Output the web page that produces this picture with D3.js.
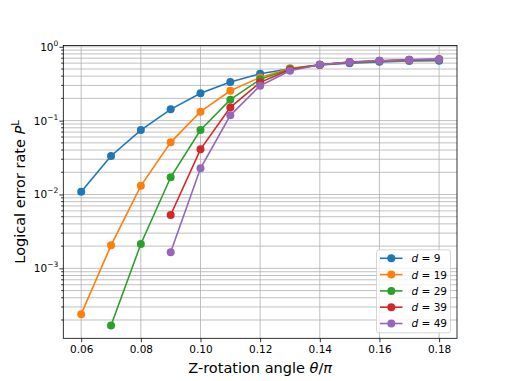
<!DOCTYPE html>
<html>
<head>
<meta charset="utf-8">
<script src="https://cdn.jsdelivr.net/npm/d3@7"></script>
<style>
  body { margin: 0; background: white; }
  text { font-family: "DejaVu Sans", sans-serif; }
</style>
</head>
<body>
<div id="chart"></div>
<script>
// rotation angles theta/pi
const angles = [0.06, 0.07, 0.08, 0.09, 0.10, 0.11, 0.12, 0.13, 0.14, 0.15, 0.16, 0.17, 0.18];

// logical error rates, null where no point was plotted
const d9  = [0.0109, 0.0332, 0.0746, 0.142, 0.234, 0.333, 0.431, 0.505, 0.565, 0.600, 0.625, 0.640, 0.648];
const d19 = [2.4e-4, 2.05e-3, 0.0131, 0.0508, 0.132, 0.254, 0.385, 0.51, 0.570, 0.615, 0.640, 0.655, 0.670];
const d29 = [null, 1.68e-4, 2.14e-3, 0.0171, 0.0746, 0.192, 0.362, 0.50, 0.570, 0.615, 0.640, 0.660, 0.670];
const d39 = [null, null, null, 5.28e-3, 0.0409, 0.151, 0.330, 0.49, 0.570, 0.620, 0.645, 0.665, 0.675];
const d49 = [null, null, null, 1.65e-3, 0.0226, 0.118, 0.297, 0.473, 0.571, 0.621, 0.647, 0.668, 0.680];

const seriesNames = ["9", "19", "29", "39", "49"];
const seriesValues = [d9, d19, d29, d39, d49];
const colors = ["#1f77b4", "#ff7f0e", "#2ca02c", "#d62728", "#9467bd"];

const xTicks = [0.06, 0.08, 0.10, 0.12, 0.14, 0.16, 0.18];
const yTicks = [1e-3, 1e-2, 1e-1, 1];
const yTickExp = ["\u22123", "\u22122", "\u22121", "0"];

const W = 508, H = 381;
const margin = {top: 45.5, left: 63.3, right: 51, bottom: 42.7};
const width = W - margin.left - margin.right,
      height = H - margin.top - margin.bottom;

const svg = d3.select("#chart").append("svg")
  .attr("width", W).attr("height", H);

const g = svg.append("g")
  .attr("transform", `translate(${margin.left},${margin.top})`);

const x = d3.scaleLinear().domain([0.054, 0.186]).range([0, width]);
const y = d3.scaleLog().domain([1.13e-4, 1.04]).range([height, 0]);

// minor ticks on the log axis
const minorTicks = [];
for (let e = -4; e <= 0; e++) {
  for (let m = 2; m <= 9; m++) {
    const v = m * Math.pow(10, e);
    if (v >= y.domain()[0] && v <= y.domain()[1]) minorTicks.push(v);
  }
}

// grid
const grid = g.append("g").attr("stroke", "#b0b0b0").attr("stroke-width", 0.8);
grid.selectAll(".gx").data(xTicks).join("line")
  .attr("x1", d => x(d)).attr("x2", d => x(d))
  .attr("y1", 0).attr("y2", height);
grid.selectAll(".gy").data(yTicks.concat(minorTicks).filter(v => v <= y.domain()[1])).join("line")
  .attr("x1", 0).attr("x2", width)
  .attr("y1", d => y(d)).attr("y2", d => y(d));

// lines and markers
const line = d3.line()
  .defined(d => d.v != null)
  .x(d => x(d.a)).y(d => y(d.v));

seriesValues.forEach((vals, i) => {
  const pts = angles.map((a, k) => ({a, v: vals[k]}));
  g.append("path").datum(pts)
    .attr("d", line)
    .attr("fill", "none")
    .attr("stroke", colors[i])
    .attr("stroke-width", 1.6);
  g.append("g").selectAll("circle")
    .data(pts.filter(d => d.v != null))
    .join("circle")
    .attr("cx", d => x(d.a)).attr("cy", d => y(d.v))
    .attr("r", 4)
    .attr("fill", colors[i]);
});

// axes
const xAxis = g.append("g")
  .attr("transform", `translate(0,${height})`)
  .call(d3.axisBottom(x).tickValues(xTicks).tickSize(3.9).tickPadding(3.5)
    .tickFormat(d3.format(".2f")));
xAxis.selectAll("text").attr("font-size", 10.5).attr("fill", "black")
  .style("font-family", "DejaVu Sans");

const yAxis = g.append("g")
  .call(d3.axisLeft(y).tickValues(yTicks).tickSize(3.9).tickPadding(3.5).tickFormat(""));
yAxis.selectAll(".tick text").remove();
yAxis.selectAll(".minor").data(minorTicks).join("line")
  .attr("x1", 0).attr("x2", -2.2)
  .attr("y1", d => y(d)).attr("y2", d => y(d))
  .attr("stroke", "black").attr("stroke-width", 0.7);

const ylab = g.append("g").selectAll("text").data(yTicks).join("text")
  .attr("x", -7)
  .attr("y", d => y(d) + 4)
  .attr("text-anchor", "end")
  .attr("font-size", 10.5);
ylab.append("tspan").text("10");
ylab.append("tspan").attr("dy", -5).attr("font-size", 7.5).text((d, i) => yTickExp[i]);
// shift so the whole label ends at the tick
ylab.attr("x", -5);

[xAxis, yAxis].forEach(a => {
  a.select(".domain").remove();
  a.selectAll("line").attr("stroke", "black").attr("stroke-width", 0.8);
});

// frame
g.append("rect").attr("width", width).attr("height", height)
  .attr("fill", "none").attr("stroke", "black").attr("stroke-width", 0.8);

// axis titles
svg.append("text")
  .attr("x", margin.left + width / 2).attr("y", 373)
  .attr("text-anchor", "middle").attr("font-size", 14.5)
  .html('Z-rotation angle <tspan font-style="italic">θ</tspan>/<tspan font-style="italic">π</tspan>');

const yt = svg.append("text")
  .attr("transform", `translate(25,${margin.top + height / 2}) rotate(-90)`)
  .attr("text-anchor", "middle").attr("font-size", 14.5);
yt.append("tspan").text("Logical error rate ");
yt.append("tspan").attr("font-style", "italic").text("P");
yt.append("tspan").attr("dy", -6).attr("font-size", 10).text("L");

// legend
const leg = g.append("g").attr("transform", `translate(${width - 80.5},${height - 88.5})`);
leg.append("rect").attr("width", 74).attr("height", 83).attr("rx", 2.5)
  .attr("fill", "white").attr("fill-opacity", 0.8)
  .attr("stroke", "#cccccc").attr("stroke-width", 0.8);
seriesNames.forEach((n, i) => {
  const ly = 8.5 + i * 16.3;
  leg.append("line").attr("x1", 3.5).attr("x2", 26).attr("y1", ly).attr("y2", ly)
    .attr("stroke", colors[i]).attr("stroke-width", 1.6);
  leg.append("circle").attr("cx", 14.8).attr("cy", ly).attr("r", 4).attr("fill", colors[i]);
  const t = leg.append("text").attr("x", 35).attr("y", ly + 4).attr("font-size", 10.5);
  t.append("tspan").attr("font-style", "italic").text("d");
  t.append("tspan").text(" = " + n);
});
</script>
</body>
</html>
